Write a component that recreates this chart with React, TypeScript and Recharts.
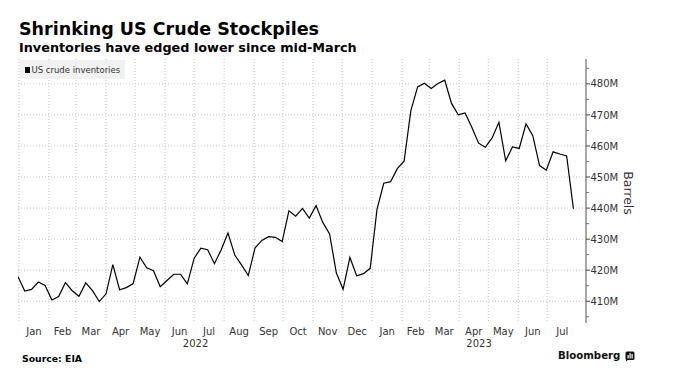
import { LineChart, Line, XAxis, YAxis, CartesianGrid } from 'recharts';

// semanal, milhões de barris (EIA, estoques comerciais ex-SPR)
// primeiro valor = semana encerrada em 31/12/2021
const inventories2022 = [
  417.9, 413.3, 413.8, 416.2, 415.1, 410.4, 411.5, 416.0, 413.4, 411.6, 415.9, 413.4, 409.9,
  412.4, 421.8, 413.7, 414.4, 415.7, 424.2, 420.8, 419.8, 414.7, 416.7, 418.7, 418.7, 415.6,
  423.8, 427.1, 426.6, 422.1, 426.6, 432.0, 424.9, 421.7, 418.3, 427.2, 429.6, 430.8, 430.6,
  429.2, 439.1, 437.4, 439.9, 436.8, 440.8, 435.4, 431.7, 419.1, 413.9, 424.1, 418.2, 418.9,
  420.6,
];
const inventories2023 = [
  439.6, 448.0, 448.5, 452.7, 455.1, 471.4, 479.0, 480.2, 478.5, 480.1, 481.2, 473.7, 470.0,
  470.6, 466.0, 460.9, 459.6, 462.6, 467.6, 455.2, 459.7, 459.2, 467.1, 463.3, 453.7, 452.2,
  458.1, 457.4, 456.8, 439.8,
];

const monthNames = ['Jan', 'Feb', 'Mar', 'Apr', 'May', 'Jun', 'Jul', 'Aug', 'Sep', 'Oct', 'Nov', 'Dec'];
const yearLabels = ['2022', '2023'];
const yTicks = [405, 410, 415, 420, 425, 430, 435, 440, 445, 450, 455, 460, 465, 470, 475, 480, 485];
const yGridValues = [410, 420, 430, 440, 450, 460, 470, 480];

const DAY = 86400000;
const firstWeek = Date.UTC(2021, 11, 31);
const domainStart = firstWeek;
const domainEnd = Date.UTC(2023, 7, 10);

const data = [...inventories2022, ...inventories2023].map((v, i) => ({
  t: firstWeek + i * 7 * DAY,
  v,
}));

// inicio de cada mes (linhas de grade) e meio do mes (rotulos)
const monthStarts: number[] = [];
for (let m = 0; m < 19; m++) monthStarts.push(Date.UTC(2022, m, 1));
const monthMids = monthStarts.map((s, i) => {
  const next = Date.UTC(2022, i + 1, 1);
  return (s + next) / 2;
});

// rotulo do ano centrado no trecho do ano dentro do eixo
const yearTickMap = new Map<number, string>();
yearLabels.forEach((y) => {
  const yr = Number(y);
  const a = Math.max(Date.UTC(yr, 0, 1), domainStart);
  const b = Math.min(Date.UTC(yr + 1, 0, 1), domainEnd);
  yearTickMap.set((a + b) / 2, y);
});
const xTicks = [...monthMids, ...yearTickMap.keys()];

const FONT = '"DejaVu Sans", Verdana, sans-serif';

const scaleOf = (axis: any) => {
  const s = axis?.scale;
  if (typeof s === 'function') return s;
  if (s && typeof s.map === 'function') return (v: number) => s.map(v);
  return null;
};

const XTick = (props: any) => {
  const { x, y, payload } = props;
  const year = yearTickMap.get(payload.value);
  if (year) {
    return (
      <text x={x} y={y + 24} textAnchor="middle" fontSize={10} fill="#333" fontFamily={FONT}>
        {year}
      </text>
    );
  }
  const d = new Date(payload.value);
  return (
    <text x={x} y={y + 12} textAnchor="middle" fontSize={10} fill="#333" fontFamily={FONT}>
      {monthNames[d.getUTCMonth()]}
    </text>
  );
};

const YTick = (props: any) => {
  const { x, y, payload } = props;
  const v = payload.value;
  const major = v % 10 === 0;
  return (
    <g>
      <line x1={x} x2={x + (major ? 4 : 3)} y1={y} y2={y} stroke={major ? '#444' : '#777'} strokeWidth={1} />
      {major && (
        <text x={x + 4.5} y={y} dy="0.36em" fontSize={10} fill="#333" fontFamily={FONT}>
          {v}M
        </text>
      )}
    </g>
  );
};

const TextAt = ({ left, baseline, size, bold, children, color = '#000' }: any) => (
  <div
    style={{
      position: 'absolute',
      left,
      top: baseline - 0.846 * size,
      fontSize: size,
      lineHeight: `${size}px`,
      fontWeight: bold ? 'bold' : 'normal',
      fontFamily: FONT,
      color,
      whiteSpace: 'nowrap',
    }}
  >
    {children}
  </div>
);

export default function App() {
  return (
    <div
      style={{
        position: 'absolute',
        top: 0,
        left: 0,
        width: 684,
        height: 378,
        background: '#fff',
        overflow: 'hidden',
        fontFamily: FONT,
      }}
    >
      <TextAt left={19} baseline={36} size={17.5} bold>
        Shrinking US Crude Stockpiles
      </TextAt>
      <TextAt left={19} baseline={53} size={12.8} bold>
        Inventories have edged lower since mid-March
      </TextAt>

      <div style={{ position: 'absolute', left: 0, top: 0 }}>
        <LineChart width={684} height={378} data={data} margin={{ top: 59, right: 0, bottom: 0, left: 18 }}>
          <CartesianGrid
            stroke="#c4c4c4"
            strokeDasharray="1 2"
            verticalCoordinatesGenerator={({ xAxis }: any) => {
              const f = scaleOf(xAxis);
              return f ? monthStarts.map((t) => f(t)) : [];
            }}
            horizontalCoordinatesGenerator={({ yAxis }: any) => {
              const f = scaleOf(yAxis);
              return f ? yGridValues.map((v) => f(v)) : [];
            }}
          />
          <XAxis
            dataKey="t"
            type="number"
            domain={[domainStart, domainEnd]}
            allowDataOverflow
            ticks={xTicks}
            interval={0}
            height={55}
            axisLine={false}
            tickLine={false}
            tickSize={0}
            tickMargin={0}
            tick={<XTick />}
          />
          <YAxis
            orientation="right"
            type="number"
            domain={[403, 488]}
            allowDataOverflow
            ticks={yTicks}
            interval={0}
            width={98}
            axisLine={{ stroke: '#8a8a8a', strokeWidth: 1.5 }}
            tickLine={false}
            tickSize={0}
            tickMargin={0}
            tick={<YTick />}
          />
          <Line
            type="linear"
            dataKey="v"
            stroke="#000"
            strokeWidth={1.2}
            dot={false}
            activeDot={false}
            isAnimationActive={false}
          />
        </LineChart>
      </div>

      {/* legenda */}
      <div
        style={{
          position: 'absolute',
          left: 20,
          top: 60,
          width: 105,
          height: 19,
          background: 'rgba(236,236,236,0.75)',
        }}
      />
      <div style={{ position: 'absolute', left: 25, top: 67, width: 5, height: 6, background: '#000' }} />
      <TextAt left={31.5} baseline={73} size={8.5} color="#333">
        US crude inventories
      </TextAt>

      {/* titulo do eixo */}
      <div
        style={{
          position: 'absolute',
          left: 628,
          top: 193,
          transform: 'translate(-50%, -50%) rotate(90deg)',
          fontSize: 12.5,
          lineHeight: '13px',
          color: '#333',
          fontFamily: FONT,
          whiteSpace: 'nowrap',
        }}
      >
        Barrels
      </div>

      <TextAt left={22} baseline={362} size={9.3} bold>
        Source: EIA
      </TextAt>
      <TextAt left={558} baseline={360} size={10.2} bold color="#111">
        Bloomberg
      </TextAt>
      <svg style={{ position: 'absolute', left: 625, top: 351 }} width={10} height={11}>
        <rect x={0.5} y={0.5} width={9} height={8.5} rx={1.5} fill="#111" />
        <polygon points="1,8 4,8 1,10.5" fill="#111" />
        <rect x={2.5} y={4} width={1.2} height={3.5} fill="#fff" />
        <rect x={4.5} y={2} width={1.2} height={5.5} fill="#fff" />
        <rect x={6.5} y={3} width={1.2} height={4.5} fill="#fff" />
      </svg>
    </div>
  );
}
